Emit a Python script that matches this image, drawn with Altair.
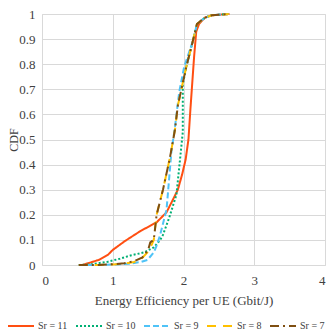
import altair as alt
import pandas as pd

series = ["Sr = 11", "Sr = 10", "Sr = 9", "Sr = 8", "Sr = 7"]
colors = ["#FF4F12", "#00B074", "#4FC3F7", "#FFC000", "#7F4F12"]
dashes = [[1, 0], [2, 2], [6, 3], [9, 7], [9, 4, 2, 4]]

x11 = [0.57, 0.8, 0.93, 1.0, 1.17, 1.39, 1.62, 1.76, 1.85, 1.92, 1.98, 2.03, 2.07, 2.1, 2.15, 2.18, 2.22, 2.3, 2.4, 2.65]
y11 = [0, 0.02, 0.04, 0.06, 0.095, 0.135, 0.17, 0.21, 0.26, 0.30, 0.36, 0.42, 0.5, 0.63, 0.83, 0.93, 0.96, 0.985, 0.995, 1.0]

x10 = [0.52, 0.7, 0.93, 1.1, 1.25, 1.44, 1.58, 1.67, 1.71, 1.8, 1.9, 1.94, 1.99, 1.99, 2.04, 2.13, 2.19, 2.3, 2.4, 2.64]
y10 = [0, 0.003, 0.013, 0.025, 0.038, 0.05, 0.07, 0.1, 0.12, 0.19, 0.28, 0.39, 0.53, 0.72, 0.79, 0.89, 0.96, 0.985, 0.995, 1.0]

x9 = [0.52, 0.8, 1.0, 1.23, 1.4, 1.49, 1.58, 1.62, 1.67, 1.76, 1.79, 1.83, 1.875, 1.94, 2.01, 2.13, 2.19, 2.3, 2.4, 2.64]
y9 = [0, 0, 0.002, 0.005, 0.012, 0.02, 0.05, 0.077, 0.12, 0.22, 0.32, 0.455, 0.54, 0.69, 0.79, 0.89, 0.96, 0.985, 0.995, 1.0]

x8 = [0.52, 0.8, 1.0, 1.16, 1.3, 1.39, 1.49, 1.55, 1.58, 1.62, 1.71, 1.81, 1.88, 1.92, 1.97, 2.04, 2.13, 2.19, 2.3, 2.4, 2.64]
y8 = [0, 0, 0.002, 0.005, 0.012, 0.02, 0.05, 0.08, 0.1, 0.2, 0.3, 0.43, 0.54, 0.635, 0.7, 0.79, 0.89, 0.96, 0.985, 0.995, 1.0]

x7 = [0.52, 0.8, 1.0, 1.16, 1.3, 1.42, 1.5, 1.53, 1.58, 1.62, 1.71, 1.81, 1.88, 1.92, 1.97, 2.04, 2.13, 2.19, 2.3, 2.4, 2.64]
y7 = [0, 0, 0.003, 0.007, 0.015, 0.03, 0.06, 0.09, 0.1, 0.2, 0.3, 0.43, 0.54, 0.635, 0.7, 0.79, 0.89, 0.96, 0.985, 0.995, 1.0]

rows = []
for name, xs, ys in zip(series, [x11, x10, x9, x8, x7], [y11, y10, y9, y8, y7]):
    for i, (a, b) in enumerate(zip(xs, ys)):
        rows.append({"series": name, "x": a, "y": b, "i": i})
df = pd.DataFrame(rows)

FONT = "Liberation Serif"
W, H = 283, 251

leg = dict(title=None, orient="none", direction="horizontal",
           legendX=-35, legendY=298, symbolType="stroke",
           symbolSize=676, symbolStrokeWidth=2,
           labelFont=FONT, labelFontSize=10, labelColor="#404040", labelOffset=3,
           columnPadding=4, symbolOffset=0, padding=0)

chart = alt.Chart(df).mark_line(strokeWidth=2).encode(
    x=alt.X("x:Q", scale=alt.Scale(domain=[0, 4], nice=False),
            axis=alt.Axis(values=[0, 1, 2, 3, 4], title="Energy Efficiency per UE (Gbit/J)",
                          format="~g", grid=True, gridColor="#D9D9D9", domain=False, ticks=False,
                          labelFont=FONT, labelFontSize=13, labelColor="#404040", labelPadding=9,
                          titleFont=FONT, titleFontSize=13, titleFontWeight="normal",
                          titleColor="#404040", titlePadding=7)),
    y=alt.Y("y:Q", scale=alt.Scale(domain=[0, 1], nice=False),
            axis=alt.Axis(values=[0, 0.1, 0.2, 0.3, 0.4, 0.5, 0.6, 0.7, 0.8, 0.9, 1.0],
                          title="CDF", format="~g", grid=True, gridColor="#D9D9D9",
                          domain=False, ticks=False,
                          labelFont=FONT, labelFontSize=13, labelColor="#404040", labelPadding=7,
                          titleFont=FONT, titleFontSize=12, titleFontWeight="normal",
                          titleColor="#404040", titleX=-29, titleY=H / 2,
                          titleBaseline="middle", titleAlign="center")),
    color=alt.Color("series:N", scale=alt.Scale(domain=series, range=colors),
                    legend=alt.Legend(**leg)),
    strokeDash=alt.StrokeDash("series:N", scale=alt.Scale(domain=series, range=dashes),
                              legend=alt.Legend(**leg)),
    order="i:Q",
).properties(
    width=W, height=H,
    autosize=alt.AutoSizeParams(type="none"),
    padding={"left": 34, "top": 6, "right": 3, "bottom": 71},
).configure_view(stroke=None).configure(font=FONT)

chart.save("out.html", embed_options={"renderer": "svg", "actions": False})
